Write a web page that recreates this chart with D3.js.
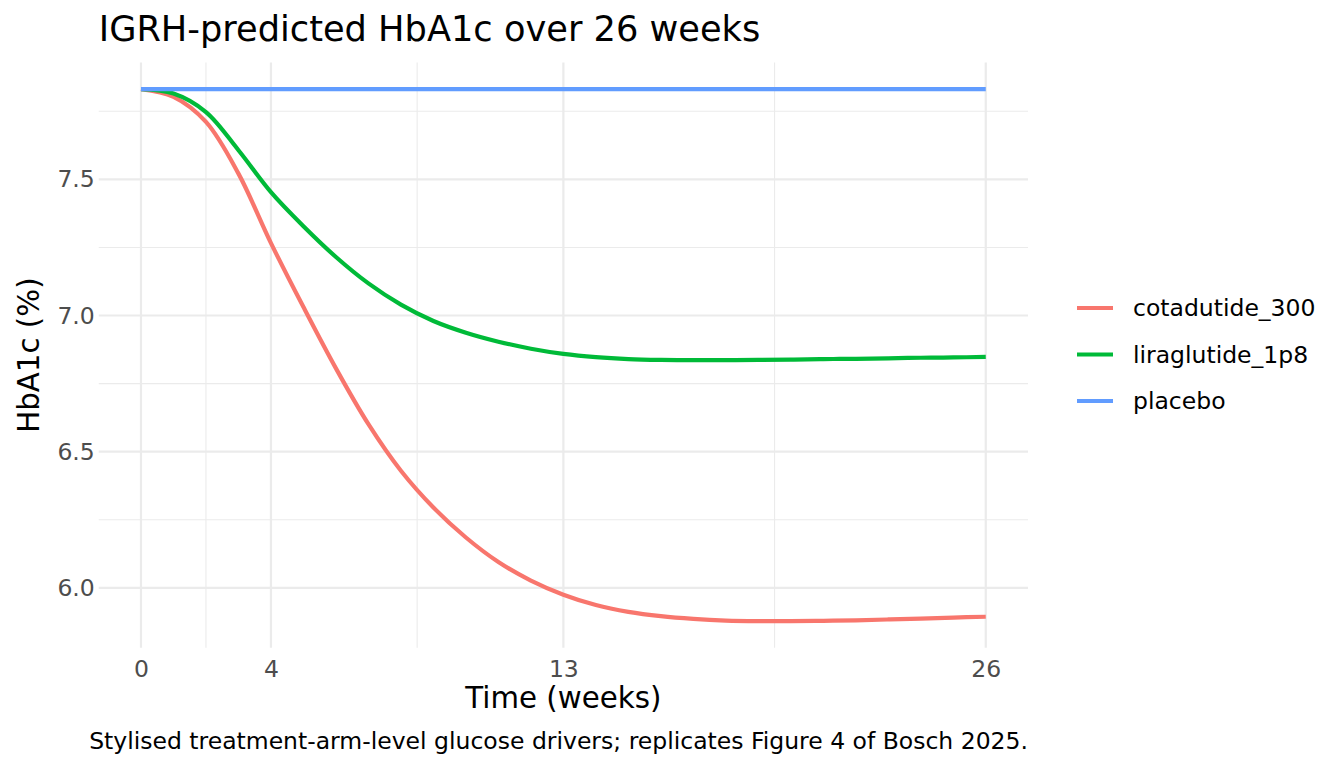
<!DOCTYPE html>
<html>
<head>
<meta charset="utf-8">
<script src="https://cdn.jsdelivr.net/npm/d3@7"></script>
<style>
  body { margin: 0; background: #fff; }
  text { font-family: "DejaVu Sans", sans-serif; }
</style>
</head>
<body>
<div id="chart-area"></div>
<script>
const width = 1344;
const height = 768;

// data
const weeks = [0, 1, 2, 3, 4, 5, 6, 7, 8, 9, 10, 11, 12, 13, 14, 15, 16, 17, 18, 19, 20, 21, 22, 23, 24, 25, 26];
const cotadutide300 = [7.831, 7.803, 7.711, 7.521, 7.266, 7.031, 6.806, 6.601, 6.43, 6.295, 6.185, 6.095, 6.027, 5.975, 5.937, 5.912, 5.896, 5.886, 5.880, 5.878, 5.878, 5.879, 5.881, 5.884, 5.887, 5.891, 5.894];
const liraglutide1p8 = [7.831, 7.815, 7.747, 7.607, 7.453, 7.328, 7.215, 7.118, 7.04, 6.98, 6.937, 6.904, 6.878, 6.859, 6.847, 6.840, 6.837, 6.836, 6.836, 6.837, 6.838, 6.840, 6.841, 6.843, 6.845, 6.846, 6.848];
const placebo = [7.831, 7.831, 7.831, 7.831, 7.831, 7.831, 7.831, 7.831, 7.831, 7.831, 7.831, 7.831, 7.831, 7.831, 7.831, 7.831, 7.831, 7.831, 7.831, 7.831, 7.831, 7.831, 7.831, 7.831, 7.831, 7.831, 7.831];

const arms = ["cotadutide_300", "liraglutide_1p8", "placebo"];
const armValues = [cotadutide300, liraglutide1p8, placebo];
const xBreaks = [0, 4, 13, 26];
const yBreaks = [6.0, 6.5, 7.0, 7.5];

const color = d3.scaleOrdinal(arms, ["#F8766D", "#00BA38", "#619CFF"]);

const series = arms.map((name, i) => ({
    name: name,
    values: weeks.map((w, j) => ({ week: w, value: armValues[i][j] }))
}));

const margin = { top: 62.6, right: 316, bottom: 120.3, left: 98.75 };

// ggplot-style 5% expansion
function expand(ext) {
    const pad = (ext[1] - ext[0]) * 0.05;
    return [ext[0] - pad, ext[1] + pad];
}

const allValues = armValues.flat();
const x = d3.scaleLinear()
    .domain(expand(d3.extent(weeks)))
    .range([margin.left, width - margin.right]);

const y = d3.scaleLinear()
    .domain(expand(d3.extent(allValues)))
    .range([height - margin.bottom, margin.top]);

// minor breaks sit half way between the major ones
const xMinor = d3.pairs(xBreaks).map(p => (p[0] + p[1]) / 2);
const yMinor = yBreaks.map(b => b - 0.25).concat([yBreaks[yBreaks.length - 1] + 0.25])
    .filter(v => v >= y.domain()[0] && v <= y.domain()[1]);

const svg = d3.select("#chart-area")
    .append("svg")
    .attr("width", width)
    .attr("height", height);

const grid = svg.append("g");

grid.selectAll(".ymin").data(yMinor).enter().append("line")
    .attr("x1", x.range()[0]).attr("x2", x.range()[1])
    .attr("y1", d => y(d)).attr("y2", d => y(d))
    .attr("stroke", "#EBEBEB").attr("stroke-width", 1.1);

grid.selectAll(".xmin").data(xMinor).enter().append("line")
    .attr("y1", y.range()[0]).attr("y2", y.range()[1])
    .attr("x1", d => x(d)).attr("x2", d => x(d))
    .attr("stroke", "#EBEBEB").attr("stroke-width", 1.1);

grid.selectAll(".ymaj").data(yBreaks).enter().append("line")
    .attr("x1", x.range()[0]).attr("x2", x.range()[1])
    .attr("y1", d => y(d)).attr("y2", d => y(d))
    .attr("stroke", "#EBEBEB").attr("stroke-width", 2.2);

grid.selectAll(".xmaj").data(xBreaks).enter().append("line")
    .attr("y1", y.range()[0]).attr("y2", y.range()[1])
    .attr("x1", d => x(d)).attr("x2", d => x(d))
    .attr("stroke", "#EBEBEB").attr("stroke-width", 2.2);

// axes, ggplot theme_minimal has no axis lines or ticks
const xAxis = svg.append("g")
    .attr("transform", `translate(0, ${y.range()[0]})`)
    .call(d3.axisBottom(x).tickValues(xBreaks).tickSize(0).tickPadding(13));
xAxis.select(".domain").remove();
xAxis.selectAll("text")
    .attr("fill", "#4D4D4D")
    .style("font-size", "23.5px")
    .style("font-family", "DejaVu Sans");

const yAxis = svg.append("g")
    .attr("transform", `translate(${x.range()[0]}, 0)`)
    .call(d3.axisLeft(y).tickValues(yBreaks).tickFormat(d3.format(".1f")).tickSize(0).tickPadding(4));
yAxis.select(".domain").remove();
yAxis.selectAll("text")
    .attr("fill", "#4D4D4D")
    .style("font-size", "23.5px")
    .style("font-family", "DejaVu Sans");

const line = d3.line()
    .x(d => x(d.week))
    .y(d => y(d.value))
    .curve(d3.curveCatmullRom.alpha(0.5));

svg.selectAll(".arm")
    .data(series)
    .enter().append("path")
    .attr("fill", "none")
    .attr("stroke", d => color(d.name))
    .attr("stroke-width", 4.2)
    .attr("d", d => line(d.values));

// titles
svg.append("text")
    .attr("x", margin.left).attr("y", 41)
    .style("font-size", "35.2px")
    .text("IGRH-predicted HbA1c over 26 weeks");

svg.append("text")
    .attr("x", (x.range()[0] + x.range()[1]) / 2).attr("y", 708)
    .attr("text-anchor", "middle")
    .style("font-size", "29.3px")
    .text("Time (weeks)");

svg.append("text")
    .attr("transform", `translate(39, ${(y.range()[0] + y.range()[1]) / 2}) rotate(-90)`)
    .attr("text-anchor", "middle")
    .style("font-size", "29.3px")
    .text("HbA1c (%)");

svg.append("text")
    .attr("x", x.range()[1]).attr("y", 749)
    .attr("text-anchor", "end")
    .style("font-size", "23.5px")
    .text("Stylised treatment-arm-level glucose drivers; replicates Figure 4 of Bosch 2025.");

// legend
const legend = svg.append("g")
    .attr("transform", "translate(1077, 308)");

const key = legend.selectAll(".key")
    .data(arms)
    .enter().append("g")
    .attr("transform", (d, i) => `translate(0, ${i * 46.5})`);

key.append("line")
    .attr("x1", 0).attr("x2", 36)
    .attr("stroke", d => color(d))
    .attr("stroke-width", 4.2);

key.append("text")
    .attr("x", 56).attr("y", 8)
    .style("font-size", "23.5px")
    .text(d => d);
</script>
</body>
</html>
